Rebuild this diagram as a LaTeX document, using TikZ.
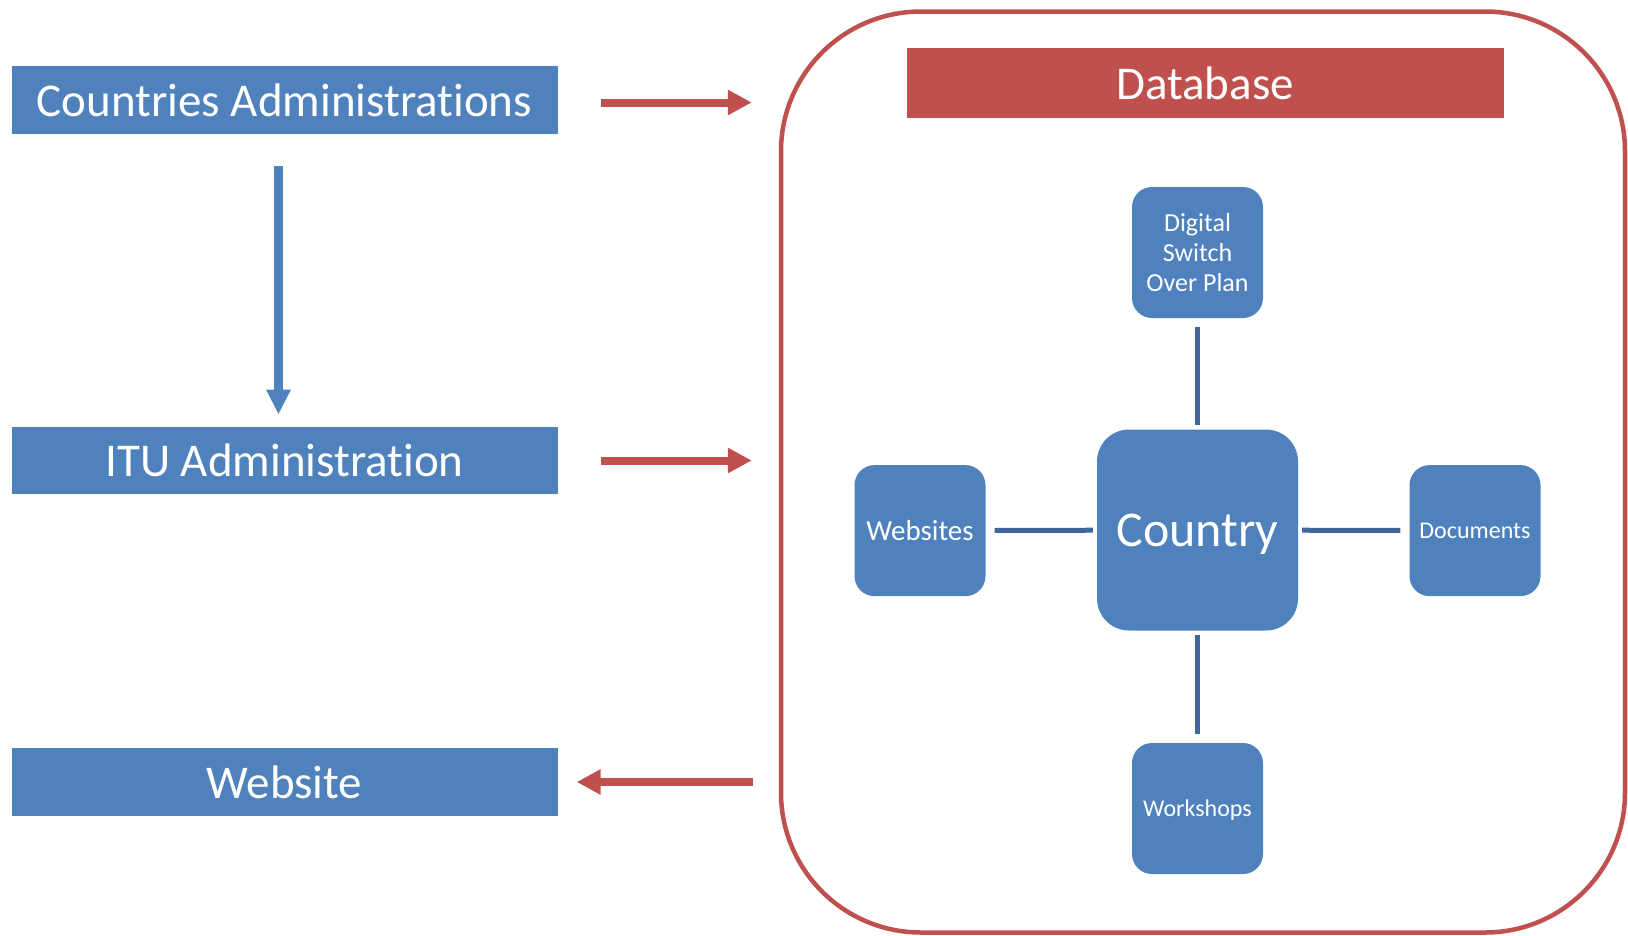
\documentclass[tikz,border=0pt]{standalone}
\usepackage{fontspec}
\setmainfont{Carlito}[Ligatures=NoCommon]
\usetikzlibrary{arrows.meta}
\definecolor{boxblue}{HTML}{4F81BD}
\definecolor{boxred}{HTML}{C0504D}
\definecolor{linkblue}{HTML}{41679A}

\begin{document}
\begin{tikzpicture}[x=1pt,y=-1pt]
  \tikzset{ bar/.style={fill=boxblue,text=white,minimum width=546pt,minimum height=67.5pt,inner sep=0pt,text depth=0pt,font=\fontsize{47}{56}\selectfont},
    cell/.style={fill=boxblue,text=white,rounded corners=20pt,minimum size=131pt,inner sep=0pt,align=center},
    redarrow/.style={draw=boxred,line width=8pt,-{Triangle[width=24pt,length=24pt]}},
    link/.style={draw=linkblue,line width=5pt},
  }
  \useasboundingbox (0,0) rectangle (1628,935);

  \node[bar] (ca)  at (284.5, 100)   {Countries Administrations};
  \node[bar] (itu) at (284.5, 460.5) {ITU Administration};
  \node[bar] (web) at (284.5, 782)   {Website};

  \node[draw=boxred,line width=4.5pt,rounded corners=140pt,minimum width=844pt,minimum height=921pt,inner sep=0pt] (frame) at (1203, 472) {};
  \node[fill=boxred,text=white,minimum width=597pt,minimum height=69.5pt,inner sep=0pt,text depth=0pt,font=\fontsize{47}{56}\selectfont] (title) at (1205, 83) {Database};

  \node[cell,minimum size=201pt,rounded corners=32pt,text depth=0pt,font=\fontsize{50}{60}\selectfont] (c) at (1197.5, 530) {Country};
  \node[cell,font=\fontsize{26}{30}\selectfont] (dso) at (1197.5, 252.5) {Digital\\Switch\\Over Plan};
  \node[cell,text depth=0pt,font=\fontsize{29}{34}\selectfont] (ws)  at (920, 530.6)    {Websites};
  \node[cell,text depth=0pt,font=\fontsize{24}{29}\selectfont] (doc) at (1475, 530.6)   {Documents};
  \node[cell,text depth=0pt,font=\fontsize{24}{29}\selectfont] (wk)  at (1197.5, 808.5) {Workshops};

  % the flow between the administrations and the database
  \draw[draw=boxblue,line width=9pt,-{Triangle[width=23pt,length=25pt]},shorten <=32pt,shorten >=12pt] ([xshift=-6pt]ca.south) -- ([xshift=-6pt]itu.north);
  \draw[redarrow,shorten <=43pt,shorten >=27pt] ([yshift=-2.5pt]ca.east) -- ([yshift=-2.5pt]ca.east -| frame.west);
  \draw[redarrow,shorten <=43pt,shorten >=27pt] (itu) -- (itu -| frame.west);
  \draw[redarrow,shorten <=26pt,shorten >=19pt] (web -| frame.west) -- (web);

  % the lines round the country
  \draw[link,shorten <=4pt,shorten >=9pt] (c) -- (dso);
  \draw[link,shorten <=4pt,shorten >=9pt] (c) -- (ws);
  \draw[link,shorten <=4pt,shorten >=9pt] (c) -- (doc);
  \draw[link,shorten <=4pt,shorten >=9pt] (c) -- (wk);
\end{tikzpicture}
\end{document}
